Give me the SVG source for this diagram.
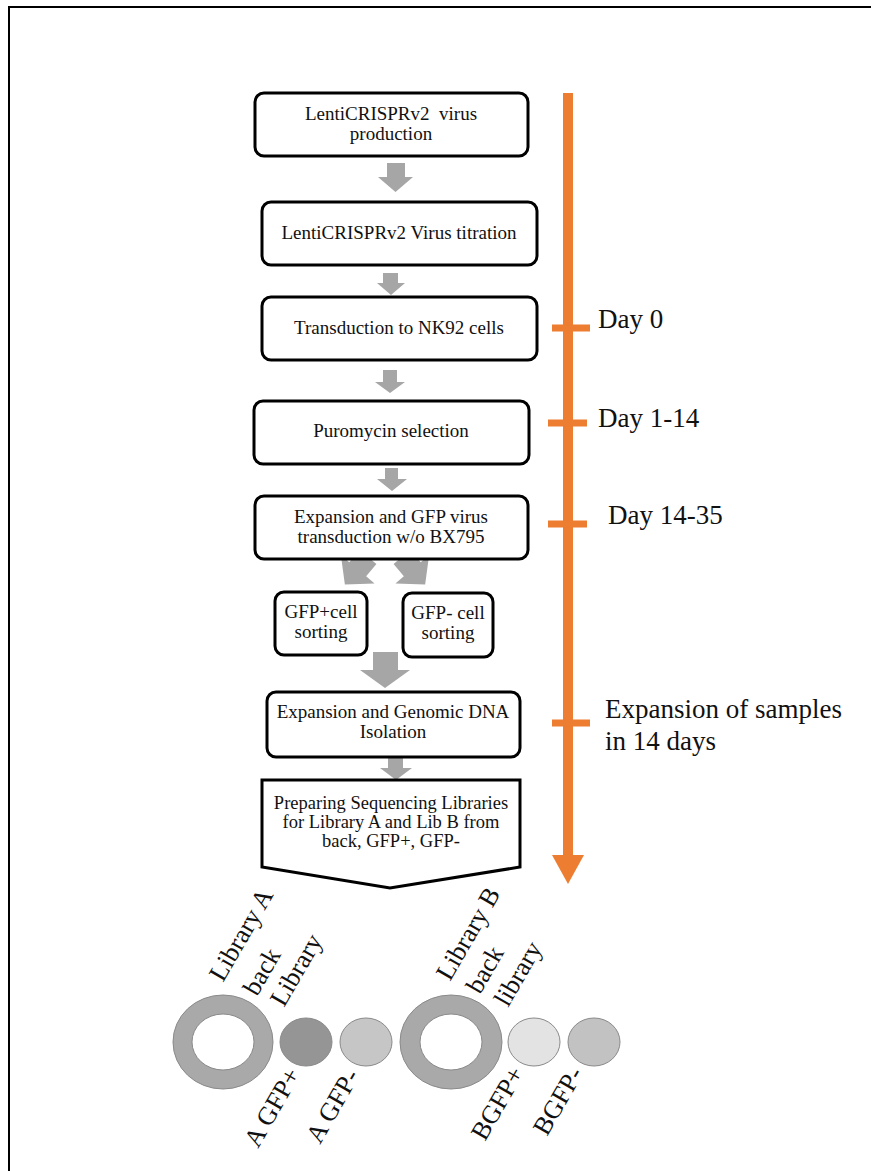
<svg xmlns="http://www.w3.org/2000/svg" width="871" height="1171" viewBox="0 0 871 1171">
<style>
.box{fill:#fff;stroke:#000;stroke-width:3}
.t{font-family:"Liberation Serif","Times New Roman",serif;font-size:19px;fill:#111;text-anchor:middle}
.t2{font-family:"Liberation Serif","Times New Roman",serif;font-size:18.5px;fill:#111;text-anchor:middle}
.lab{font-family:"Liberation Serif","Times New Roman",serif;font-size:27px;fill:#111}
.rot{font-family:"Liberation Serif","Times New Roman",serif;font-size:26px;fill:#111}
.ga{fill:#A6A6A6}
.tl{stroke:#ED7D31;stroke-width:10;fill:none}
.tick{stroke:#ED7D31;stroke-width:7}
.circ{stroke:#8a8a8a;stroke-width:1}
</style>
<rect width="871" height="1171" fill="#fff"/>
<path d="M9,1171 V7 H871" fill="none" stroke="#000" stroke-width="2"/>

<g id="timeline">
<line class="tl" x1="568" y1="93" x2="568" y2="857"/>
<polygon points="552,855 584,855 568,884" fill="#ED7D31"/>
<line class="tick" x1="552" y1="328" x2="590" y2="328"/>
<line class="tick" x1="548" y1="423" x2="587" y2="423"/>
<line class="tick" x1="548" y1="524" x2="587" y2="524"/>
<line class="tick" x1="552" y1="723" x2="590" y2="723"/>
<text class="lab" x="598" y="328">Day 0</text>
<text class="lab" x="598" y="427">Day 1-14</text>
<text class="lab" x="608" y="524">Day 14-35</text>
<text class="lab" x="605" y="718">Expansion of samples</text>
<text class="lab" x="605" y="750">in 14 days</text>
</g>

<g id="connectors">
<polygon class="ga" points="387,163 405,163 405,177 413,177 395.5,192 378,177 387,177"/>
<polygon class="ga" points="383,273 398,273 398,283 405,283 391,295 377,283 383,283"/>
<polygon class="ga" points="383,370 397,370 397,382 405,382 390,393 375,382 383,382"/>
<polygon class="ga" points="385,468 398,468 398,479 407,479 392,491 377,479 385,479"/>
<polygon class="ga" points="-11,0 11,0 11,16 22,16 0,36 -22,16 -11,16" transform="translate(368,557) rotate(40)"/>
<polygon class="ga" points="-11,0 11,0 11,16 22,16 0,36 -22,16 -11,16" transform="translate(402,557) rotate(-40)"/>
<polygon class="ga" points="373,652 398,652 398,670 410,670 385,688 360,670 373,670"/>
<polygon class="ga" points="388,758 403,758 403,768 412,768 396,780 380,768 388,768"/>
</g>

<g id="n1">
<rect class="box" x="255" y="93" width="273" height="63" rx="9"/>
<text class="t" x="391" y="120" xml:space="preserve">LentiCRISPRv2  virus</text>
<text class="t" x="391" y="140">production</text>
</g>
<g id="n2">
<rect class="box" x="262" y="202" width="275" height="63" rx="9"/>
<text class="t" x="399" y="239">LentiCRISPRv2 Virus titration</text>
</g>
<g id="n3">
<rect class="box" x="262" y="297" width="275" height="63" rx="9"/>
<text class="t" x="399" y="334">Transduction to NK92 cells</text>
</g>
<g id="n4">
<rect class="box" x="254" y="401" width="275" height="63" rx="9"/>
<text class="t" x="391" y="437">Puromycin selection</text>
</g>
<g id="n5">
<rect class="box" x="255" y="496" width="273" height="63" rx="9"/>
<text class="t" x="391" y="523">Expansion and GFP virus</text>
<text class="t" x="391" y="543">transduction w/o BX795</text>
</g>
<g id="n6a">
<rect class="box" x="275" y="592" width="92" height="63" rx="9"/>
<text class="t" x="321" y="618">GFP+cell</text>
<text class="t" x="321" y="638">sorting</text>
</g>
<g id="n6b">
<rect class="box" x="403" y="593" width="90" height="64" rx="9"/>
<text class="t" x="448" y="619">GFP- cell</text>
<text class="t" x="448" y="639">sorting</text>
</g>
<g id="n7">
<rect class="box" x="267" y="692" width="253" height="65" rx="9"/>
<text class="t" x="393" y="718">Expansion and Genomic DNA</text>
<text class="t" x="393" y="738">Isolation</text>
</g>
<g id="n8">
<polygon class="box" points="262,780 520,780 520,867 390,888 262,867" stroke-linejoin="miter"/>
<text class="t2" x="391" y="809">Preparing Sequencing Libraries</text>
<text class="t2" x="391" y="828">for Library A and Lib B from</text>
<text class="t2" x="391" y="847">back, GFP+, GFP-</text>
</g>

<g id="libA">
<path class="circ" fill="#A9A9A9" fill-rule="evenodd" d="M173,1042 a50,47 0 1,0 100,0 a50,47 0 1,0 -100,0 Z M192,1042 a31,28 0 1,0 62,0 a31,28 0 1,0 -62,0 Z"/>
<ellipse class="circ" cx="306" cy="1042" rx="26" ry="24" fill="#959595"/>
<ellipse class="circ" cx="366" cy="1042" rx="26" ry="24" fill="#C6C6C6"/>
<text class="rot" transform="translate(223,983) rotate(-60)">Library A</text>
<text class="rot" transform="translate(257,997) rotate(-60)">back</text>
<text class="rot" transform="translate(284,1008) rotate(-60)">Library</text>
<text class="rot" transform="translate(258,1149) rotate(-60)">A GFP+</text>
<text class="rot" transform="translate(320,1145) rotate(-60)">A GFP-</text>
</g>
<g id="libB">
<path class="circ" fill="#A9A9A9" fill-rule="evenodd" d="M400,1042 a51,47 0 1,0 102,0 a51,47 0 1,0 -102,0 Z M420,1042 a31,28 0 1,0 62,0 a31,28 0 1,0 -62,0 Z"/>
<ellipse class="circ" cx="534" cy="1042" rx="26" ry="24" fill="#E3E3E3"/>
<ellipse class="circ" cx="594" cy="1042" rx="26" ry="24" fill="#C2C2C2"/>
<text class="rot" transform="translate(450,982) rotate(-60)">Library B</text>
<text class="rot" transform="translate(480,995) rotate(-60)">back</text>
<text class="rot" transform="translate(508,1008) rotate(-60)">library</text>
<text class="rot" transform="translate(485,1142) rotate(-60)">BGFP+</text>
<text class="rot" transform="translate(547,1137) rotate(-60)">BGFP-</text>
</g>
</svg>
